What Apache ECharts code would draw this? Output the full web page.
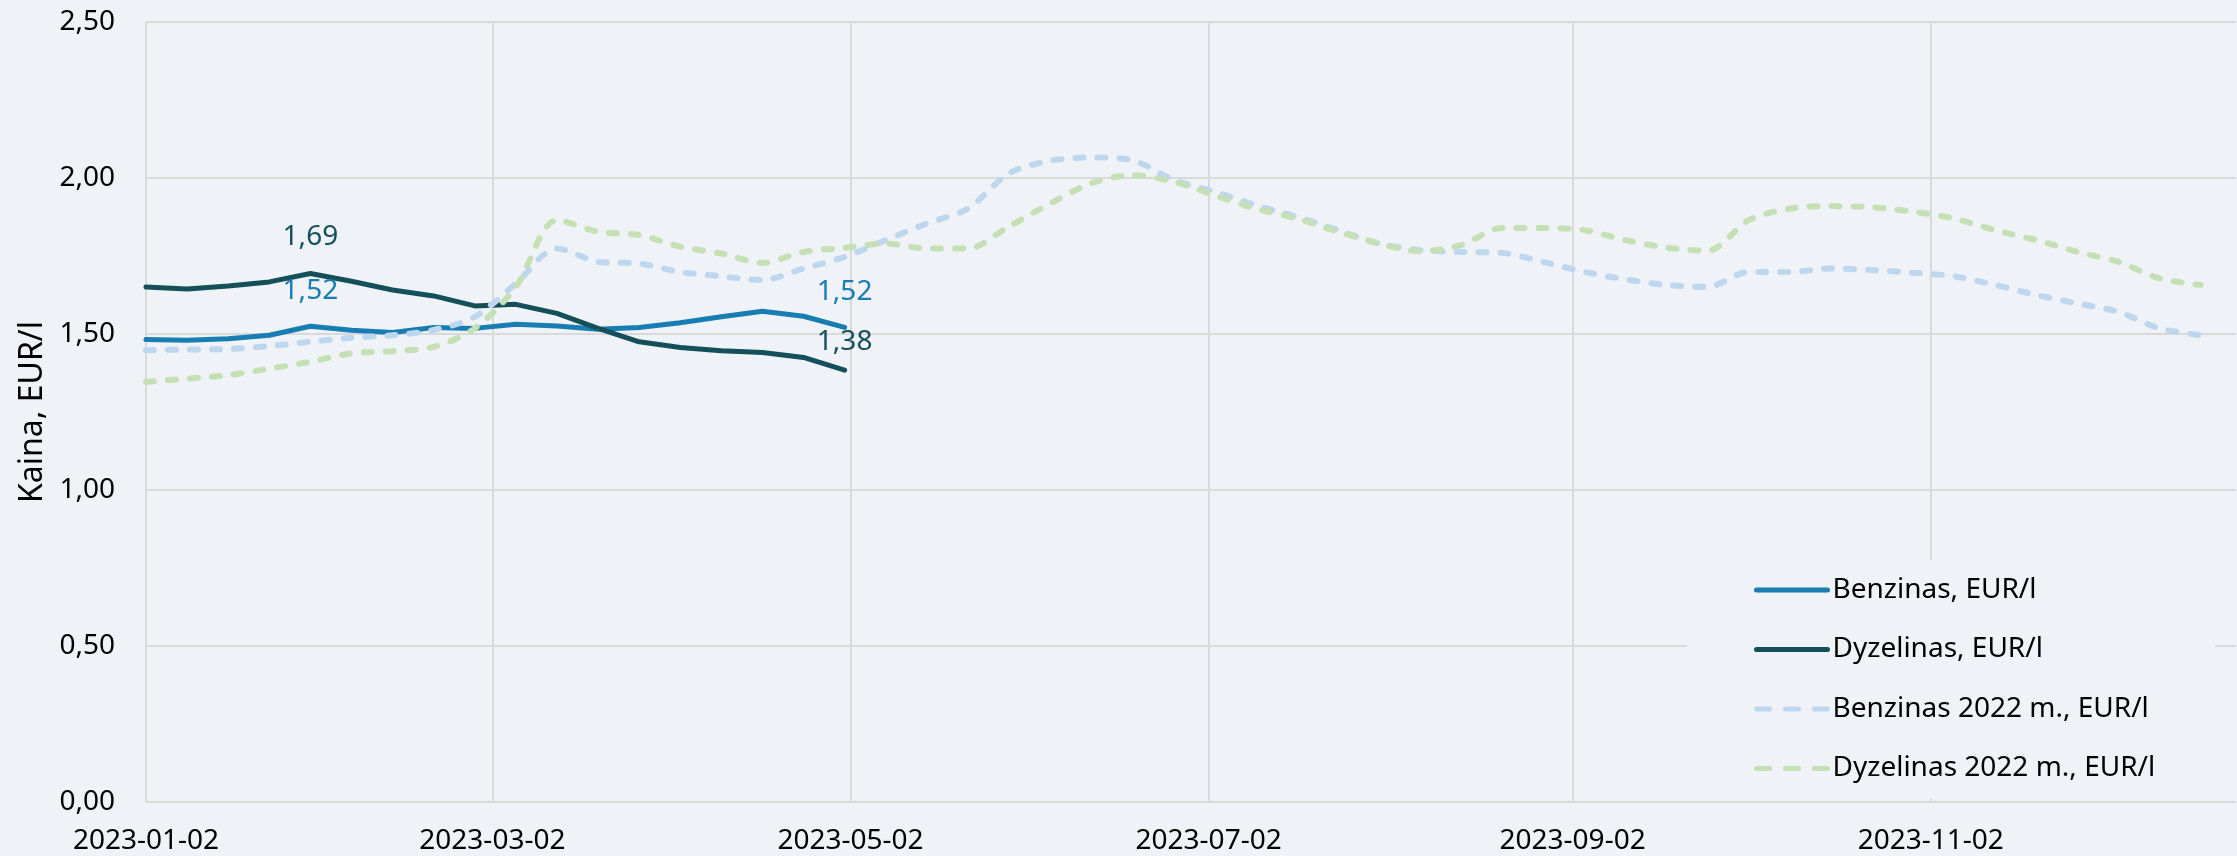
<!DOCTYPE html>
<html>
<head>
<meta charset="utf-8">
<script src="https://cdn.jsdelivr.net/npm/echarts@6/dist/echarts.min.js"></script>
<style>
html,body{margin:0;padding:0;background:#eff3f7;}
#chart{width:2237px;height:856px;}
</style>
</head>
<body>
<div id="chart"></div>
<script>
// Weekly dates (categories)
const weeks = [
  '2023-01-02','2023-01-09','2023-01-16','2023-01-23','2023-01-30',
  '2023-02-06','2023-02-13','2023-02-20','2023-02-27',
  '2023-03-06','2023-03-13','2023-03-20','2023-03-27',
  '2023-04-03','2023-04-10','2023-04-17','2023-04-24',
  '2023-05-01','2023-05-08','2023-05-15','2023-05-22','2023-05-29',
  '2023-06-05','2023-06-12','2023-06-19','2023-06-26',
  '2023-07-03','2023-07-10','2023-07-17','2023-07-24','2023-07-31',
  '2023-08-07','2023-08-14','2023-08-21','2023-08-28',
  '2023-09-04','2023-09-11','2023-09-18','2023-09-25',
  '2023-10-02','2023-10-09','2023-10-16','2023-10-23','2023-10-30',
  '2023-11-06','2023-11-13','2023-11-20','2023-11-27',
  '2023-12-04','2023-12-11','2023-12-18'
];

const benzinas2023 = [1.482, 1.480, 1.485, 1.496, 1.525, 1.512, 1.505, 1.521, 1.518, 1.531, 1.526, 1.515, 1.521, 1.536, 1.555, 1.573, 1.557, 1.521];
const dyzelinas2023 = [1.651, 1.644, 1.654, 1.667, 1.694, 1.669, 1.641, 1.622, 1.590, 1.595, 1.566, 1.518, 1.475, 1.457, 1.446, 1.441, 1.425, 1.384];

const benzinas2022 = [
  1.448, 1.450, 1.452, 1.461, 1.475, 1.488, 1.496, 1.513, 1.555, 1.662, 1.774,
  1.731, 1.726, 1.699, 1.685, 1.673, 1.710, 1.747, 1.801, 1.854, 1.902,
  2.015, 2.055, 2.066, 2.057, 1.995, 1.956, 1.913, 1.876, 1.833, 1.790,
  1.769, 1.763, 1.760, 1.731, 1.699, 1.675, 1.657, 1.651, 1.699, 1.699,
  1.710, 1.705, 1.696, 1.685, 1.657, 1.625, 1.598, 1.571, 1.518, 1.496
];
const dyzelinas2022 = [
  1.347, 1.357, 1.368, 1.389, 1.411, 1.438, 1.445, 1.459, 1.518, 1.651, 1.865,
  1.828, 1.817, 1.780, 1.758, 1.728, 1.763, 1.776, 1.790, 1.774, 1.774,
  1.845, 1.918, 1.983, 2.009, 1.988, 1.945, 1.902, 1.870, 1.828, 1.790,
  1.765, 1.785, 1.840, 1.840, 1.833, 1.801, 1.777, 1.767, 1.865, 1.902,
  1.910, 1.906, 1.892, 1.870, 1.833, 1.801, 1.763, 1.731, 1.678, 1.657
];

const seriesNames = ['Benzinas, EUR/l', 'Dyzelinas, EUR/l', 'Benzinas 2022 m., EUR/l', 'Dyzelinas 2022 m., EUR/l'];
const xTickDates = ['2023-01-02','2023-03-02','2023-05-02','2023-07-02','2023-09-02','2023-11-02'];
const xRange = ['2023-01-02', '2023-12-24'];
const yAxisTitle = 'Kaina, EUR/l';

// labelled points: index -> label distance
const benzinasLabels = {4: 20, 17: 20};
const dyzelinasLabels = {4: 21, 17: 13};

const colors = ['#177db2', '#15505a', '#bdd7ee', '#c5e0b4'];
const FONT = 'Noto Sans';

function ts(s) { const p = s.split('-').map(Number); return Date.UTC(p[0], p[1] - 1, p[2]); }
function pad(n) { return (n < 10 ? '0' : '') + n; }
function fmtDate(v) { const d = new Date(v); return d.getUTCFullYear() + '-' + pad(d.getUTCMonth() + 1) + '-' + pad(d.getUTCDate()); }
function fmtNum(v) { return v.toFixed(2).replace('.', ','); }

function buildData(values, labels, color) {
  return values.map((v, i) => {
    const item = { value: [ts(weeks[i]), v] };
    if (labels && labels[i] !== undefined) {
      item.label = {
        show: true, position: 'top', distance: labels[i],
        color: color, fontFamily: FONT, fontSize: 28,
        formatter: p => fmtNum(p.value[1])
      };
    }
    return item;
  });
}

const chart = echarts.init(document.getElementById('chart'), null, { renderer: 'canvas' });

const tickVals = xTickDates.map(ts);

const option = {
  backgroundColor: '#eff3f7',
  animation: false,
  grid: { left: 146, right: 1, top: 22, bottom: 54, containLabel: false },
  xAxis: {
    type: 'value',
    min: ts(xRange[0]),
    max: ts(xRange[1]),
    axisLine: { show: false },
    axisTick: { show: false, customValues: tickVals },
    axisLabel: {
      customValues: tickVals,
      formatter: v => fmtDate(v),
      fontFamily: FONT, fontSize: 28, color: '#000', margin: 25, lineHeight: 28,
      showMinLabel: true, showMaxLabel: true, hideOverlap: false
    },
    splitLine: { show: true, lineStyle: { color: '#d9d9d9', width: 2 } }
  },
  yAxis: {
    type: 'value',
    min: 0, max: 2.5, interval: 0.5,
    name: yAxisTitle,
    nameLocation: 'middle',
    nameGap: 92,
    nameTextStyle: { fontFamily: FONT, fontSize: 32, color: '#000' },
    axisLine: { show: false },
    axisTick: { show: false },
    axisLabel: { formatter: v => fmtNum(v), fontFamily: FONT, fontSize: 28, color: '#000', margin: 31 },
    splitLine: { show: true, lineStyle: { color: '#d9d9d9', width: 2 } }
  },
  legend: {
    orient: 'vertical',
    left: 1687, top: 560,
    padding: [15, 60, 15, 67],
    backgroundColor: '#eff3f7',
    itemWidth: 71, itemHeight: 1, itemGap: 29.5,
    itemStyle: { opacity: 0 },
    lineStyle: { width: 5 },
    textStyle: { fontFamily: FONT, fontSize: 28, color: '#000', lineHeight: 30 },
    data: [
      { name: seriesNames[0] },
      { name: seriesNames[1] },
      { name: seriesNames[2], lineStyle: { width: 5, type: [13, 16], cap: 'round' } },
      { name: seriesNames[3], lineStyle: { width: 5, type: [13, 16], cap: 'round' } }
    ]
  },
  series: [
    {
      name: seriesNames[0], type: 'line',
      data: buildData(benzinas2023, benzinasLabels, colors[0]),
      symbol: 'circle', symbolSize: 2, showSymbol: true,
      itemStyle: { color: colors[0] },
      lineStyle: { color: colors[0], width: 5, cap: 'round', join: 'round' },
      z: 2
    },
    {
      name: seriesNames[1], type: 'line',
      data: buildData(dyzelinas2023, dyzelinasLabels, colors[1]),
      symbol: 'circle', symbolSize: 2, showSymbol: true,
      itemStyle: { color: colors[1] },
      lineStyle: { color: colors[1], width: 5, cap: 'round', join: 'round' },
      z: 2
    },
    {
      name: seriesNames[2], type: 'line',
      data: buildData(benzinas2022, null, colors[2]),
      showSymbol: false, symbol: 'none', smooth: 0.3,
      itemStyle: { color: colors[2] },
      lineStyle: { color: colors[2], width: 6, type: [8, 14], cap: 'round', join: 'round' },
      z: 3
    },
    {
      name: seriesNames[3], type: 'line',
      data: buildData(dyzelinas2022, null, colors[3]),
      showSymbol: false, symbol: 'none', smooth: 0.3,
      itemStyle: { color: colors[3] },
      lineStyle: { color: colors[3], width: 6, type: [8, 14], cap: 'round', join: 'round' },
      z: 3
    }
  ]
};
chart.setOption(option);
</script>
</body>
</html>
